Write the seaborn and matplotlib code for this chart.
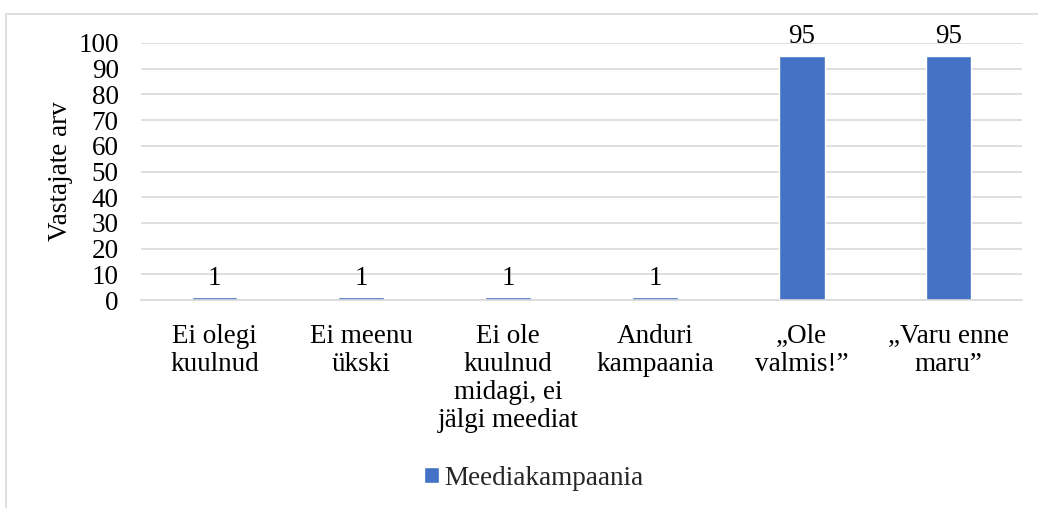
import matplotlib
matplotlib.use("Agg")
import matplotlib.pyplot as plt
from matplotlib.patches import Rectangle
import seaborn as sns
import pandas as pd

categories = ["Ei olegi\nkuulnud", "Ei meenu\nükski", "Ei ole\nkuulnud\nmidagi, ei\njälgi meediat",
              "Anduri\nkampaania", "„Ole\nvalmis!”", "„Varu enne\nmaru”"]
values = [1, 1, 1, 1, 95, 95]
series_name = "Meediakampaania"
y_ticks = list(range(0, 101, 10))

sns.set_theme(style="whitegrid")
plt.rcParams['font.family'] = ['Liberation Serif', 'DejaVu Serif']
fs = 19.5

df = pd.DataFrame({"cat": categories, "val": values})

fig = plt.figure(figsize=(10.38, 5.08), dpi=100)
ax = fig.add_axes([0.1358, 0.4094, 0.8488, 0.506])

sns.barplot(data=df, x="cat", y="val", color="#4472C4", width=0.31, saturation=1,
            label=series_name, ax=ax)

ax.set_ylim(0, 100)
ax.set_yticks(y_ticks)
ax.grid(axis="y", color="#D9D9D9", linewidth=1.2)
ax.grid(axis="x", visible=False)
for s in ["top", "right", "left"]:
    ax.spines[s].set_visible(False)
ax.spines["bottom"].set_color("#D9D9D9")
ax.spines["bottom"].set_linewidth(1.2)
ax.set_axisbelow(True)

ax.tick_params(axis="y", length=0, pad=16, labelsize=fs, labelcolor="#000000")
ax.tick_params(axis="x", length=0, pad=17, labelsize=fs, labelcolor="#000000")
for t in ax.get_xticklabels():
    t.set_linespacing(1.17)
ax.set_xlabel("")
ax.set_ylabel("Vastajate arv", fontsize=fs, color="#000000")
ax.yaxis.set_label_coords(-0.077, 0.5)

ax.bar_label(ax.containers[0], fmt="%d", padding=5, fontsize=fs, color="#000000")

fig.legend(*ax.get_legend_handles_labels(), loc="center", bbox_to_anchor=(0.514, 0.059),
           frameon=False, fontsize=fs, handlelength=0.55, handleheight=0.55, handletextpad=0.2)
if ax.get_legend():
    ax.get_legend().remove()

fig.patches.append(Rectangle((0.0058, -0.1), 1.1, 1.0724, transform=fig.transFigure,
                             fill=False, edgecolor="#D9D9D9", linewidth=1.2))

fig.savefig("out.png", dpi=100)
